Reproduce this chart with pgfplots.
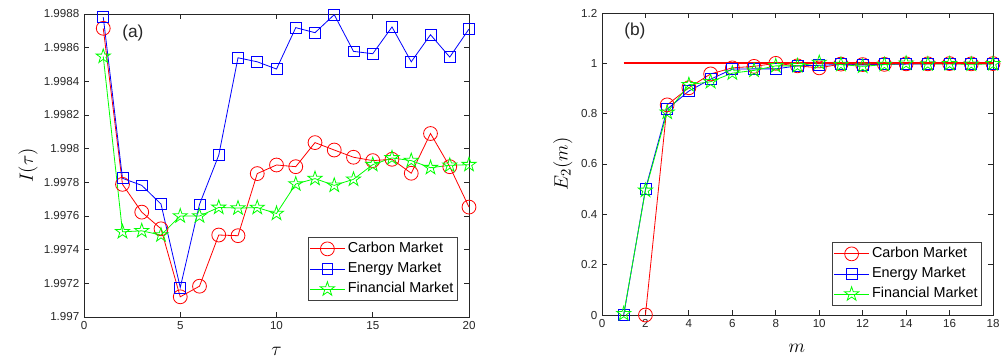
\documentclass[border=0pt]{standalone}
\usepackage{fontspec}
\setmainfont{Liberation Sans}
\usepackage{pgfplots}
\pgfplotsset{compat=1.18}
\definecolor{axgray}{RGB}{38,38,38}
\definecolor{pureRed}{RGB}{255,0,0}
\pgfdeclareplotmark{pentagram}{%
  \pgfpathmoveto{\pgfpointpolar{90}{\pgfplotmarksize}}%
  \pgfpathlineto{\pgfpointpolar{126}{0.382\pgfplotmarksize}}%
  \pgfpathlineto{\pgfpointpolar{162}{\pgfplotmarksize}}%
  \pgfpathlineto{\pgfpointpolar{198}{0.382\pgfplotmarksize}}%
  \pgfpathlineto{\pgfpointpolar{234}{\pgfplotmarksize}}%
  \pgfpathlineto{\pgfpointpolar{270}{0.382\pgfplotmarksize}}%
  \pgfpathlineto{\pgfpointpolar{306}{\pgfplotmarksize}}%
  \pgfpathlineto{\pgfpointpolar{342}{0.382\pgfplotmarksize}}%
  \pgfpathlineto{\pgfpointpolar{18}{\pgfplotmarksize}}%
  \pgfpathlineto{\pgfpointpolar{54}{0.382\pgfplotmarksize}}%
  \pgfpathclose
  \pgfusepathqstroke
}
\pgfplotsset{
  myaxis/.style={
    scale only axis,
    clip=false,
    axis line style={axgray, line width=0.6pt},
    tick style={axgray, line width=0.6pt},
    major tick length=3.5pt,
    tick align=inside,
    ticklabel style={font=\fontsize{8.7}{10}\selectfont, text=axgray},
    /pgf/number format/assume math mode=true,
    scaled ticks=false,
    label style={font=\fontsize{15.5}{17}\selectfont},
    legend style={
      at={(rel axis cs:0.971,0.053)}, anchor=south east,
      draw=black!75, line width=0.6pt,
      font=\fontsize{10.8}{12}\selectfont,
      inner sep=1pt,
      row sep=0pt,
      nodes={text height=7.7pt, text depth=2.2pt, inner ysep=2.6pt},
    },
    legend cell align=left,
    legend image code/.code={
      \draw[mark repeat=2, mark phase=2, #1] plot coordinates {(0pt,0pt) (13pt,0pt) (26pt,0pt)};
    },
  },
  carbon/.style={color=red, line width=0.6pt, mark=o, mark size=5.2pt, mark options={solid}},
  energy/.style={color=blue, line width=0.6pt, mark=square, mark size=4.1pt, mark options={solid}},
  financial/.style={color=green, line width=0.6pt, mark=pentagram, mark size=5.6pt, mark options={solid}},
}
\begin{document}
\begin{tikzpicture}
\begin{axis}[myaxis,
  width=288.75pt, height=227.25pt,
  xmin=0, xmax=20, ymin=1.997, ymax=1.9988,
  xtick={0,5,10,15,20}, xticklabels={0,5,10,15,20},
  ytick={1.997,1.9972,1.9974,1.9976,1.9978,1.998,1.9982,1.9984,1.9986,1.9988},
  yticklabels={1.997,1.9972,1.9974,1.9976,1.9978,1.998,1.9982,1.9984,1.9986,1.9988},
  xlabel={$\tau$}, ylabel={$I(\tau)$},
  xlabel style={at={(axis description cs:0.5,-0.112)}, anchor=center},
  ylabel style={at={(axis description cs:-0.145,0.5)}, anchor=center},
]
\addplot[carbon] coordinates {
(1,1.998715) (2,1.997788) (3,1.997623) (4,1.997524) (5,1.997120)
(6,1.997183) (7,1.997487) (8,1.997483) (9,1.997852) (10,1.997903)
(11,1.997893) (12,1.998036) (13,1.997992) (14,1.997949) (15,1.997929)
(16,1.997937) (17,1.997854) (18,1.998090) (19,1.997893) (20,1.997653)};
\addlegendentry{Carbon Market}
\addplot[energy] coordinates {
(1,1.998782) (2,1.997824) (3,1.997782) (4,1.997671) (5,1.997175)
(6,1.997669) (7,1.997961) (8,1.998540) (9,1.998516) (10,1.998473)
(11,1.998719) (12,1.998689) (13,1.998796) (14,1.998578) (15,1.998564)
(16,1.998723) (17,1.998516) (18,1.998677) (19,1.998544) (20,1.998711)};
\addlegendentry{Energy Market}
\addplot[financial] coordinates {
(1,1.998548) (2,1.997506) (3,1.997512) (4,1.997487) (5,1.997600)
(6,1.997600) (7,1.997651) (8,1.997647) (9,1.997650) (10,1.997615)
(11,1.997790) (12,1.997822) (13,1.997782) (14,1.997818) (15,1.997905)
(16,1.997945) (17,1.997929) (18,1.997887) (19,1.997901) (20,1.997905)};
\addlegendentry{Financial Market}
\node[font=\fontsize{13}{15}\selectfont, text=black!85] at (rel axis cs:0.127,0.937) {(a)};
\end{axis}
\begin{axis}[myaxis,
  at={(388.5pt,1.5pt)},
  width=293.25pt, height=226.5pt,
  xmin=0, xmax=18, ymin=0, ymax=1.2,
  xtick={0,2,4,6,8,10,12,14,16,18}, xticklabels={0,2,4,6,8,10,12,14,16,18},
  ytick={0,0.2,0.4,0.6,0.8,1,1.2}, yticklabels={0,0.2,0.4,0.6,0.8,1,1.2},
  xlabel={$m$}, ylabel={$E_2(m)$},
  xlabel style={at={(axis description cs:0.498,-0.109)}, anchor=center},
  ylabel style={at={(axis description cs:-0.1,0.5)}, anchor=center},
  legend style={at={(rel axis cs:0.972,0.03)}, anchor=south east},
]
\addplot[carbon] coordinates {
(2,0) (3,0.835) (4,0.903) (5,0.958) (6,0.982) (7,0.988) (8,1.0) (9,0.99)
(10,0.982) (11,0.997) (12,0.995) (13,0.996) (14,0.998) (15,0.998) (16,0.999)
(17,0.998) (18,0.999)};
\addlegendentry{Carbon Market}
\addplot[energy] coordinates {
(1,0) (2,0.5) (3,0.818) (4,0.89) (5,0.937) (6,0.977) (7,0.978) (8,0.978)
(9,0.99) (10,0.992) (11,0.996) (12,0.993) (13,0.996) (14,0.997) (15,0.998)
(16,0.998) (17,0.998) (18,0.998)};
\addlegendentry{Energy Market}
\addplot[financial] coordinates {
(1,0.005) (2,0.495) (3,0.805) (4,0.915) (5,0.927) (6,0.961) (7,0.972) (8,0.99)
(9,0.99) (10,1.003) (11,0.995) (12,0.988) (13,0.995) (14,1.0) (15,0.997)
(16,0.998) (17,0.996) (18,0.998)};
\addlegendentry{Financial Market}
\addplot[color=pureRed, draw=pureRed, line width=1.4pt, mark=none, forget plot] coordinates {(1,1) (18,1)};
\node[font=\fontsize{13}{15}\selectfont, text=black!85] at (rel axis cs:0.084,0.942) {(b)};
\end{axis}
\pgfresetboundingbox
\useasboundingbox (-63pt,-30.75pt) rectangle (690.75pt,237.75pt);
\end{tikzpicture}
\end{document}
